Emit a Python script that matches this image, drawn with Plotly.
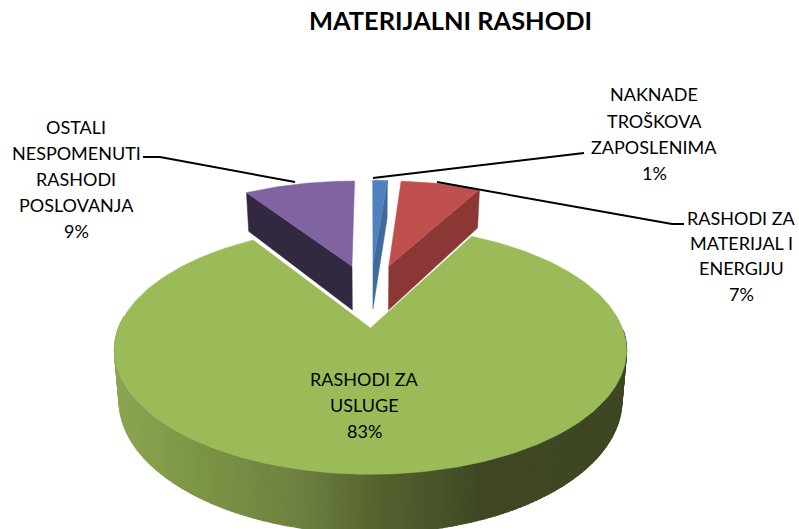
import math
import plotly.graph_objects as go

title = "MATERIJALNI RASHODI"
categories = ["NAKNADE TROŠKOVA ZAPOSLENIMA", "RASHODI ZA MATERIJAL I ENERGIJU",
              "RASHODI ZA USLUGE", "OSTALI NESPOMENUTI RASHODI POSLOVANJA"]
values = [1.2, 6.5, 83.3, 9]
top_colors = ["#4f81bd", "#c0504d", "#9bbb59", "#8064a2"]
wall_colors = ["#3f6a9c", "#8a3735", None, "#32283f"]

# pseudo-3D view parameters
W, H = 799, 529
CX, CY, AX, BY, K, EXPLODE, DEPTH, START, TAPER = 370.5, 295, 239.5, 108.5, 0.17, 0.29, 46, 0, 0.018

def project(x, y, z=0.0):
    s = 1 / (1 + K * y)
    return CX + AX * x * s * (1 - TAPER * z), CY - BY * y * s + DEPTH * z * s

total = sum(values)
angles = [START]
for v in values:
    angles.append(angles[-1] + 360 * v / total)

def rim(a0, a1, step=1.0):
    n = max(2, int(abs(a1 - a0) / step) + 1)
    return [a0 + (a1 - a0) * i / (n - 1) for i in range(n)]

def offset(i):
    m = math.radians((angles[i] + angles[i + 1]) / 2)
    if i == 2:  # the big slice is pulled straight towards the viewer
        return 0.0, -EXPLODE
    return EXPLODE * math.sin(m), EXPLODE * math.cos(m)

def pt(i, a, z=0.0, r=1.0):
    ox, oy = offset(i)
    t = math.radians(a)
    return project(ox + r * math.sin(t), oy + r * math.cos(t), z)

fig = go.Figure()

def poly(points, color, edge=0.5):
    xs = [p[0] for p in points] + [points[0][0]]
    ys = [p[1] for p in points] + [points[0][1]]
    fig.add_trace(go.Scatter(x=xs, y=ys, mode="lines", fill="toself", fillcolor=color,
                             line=dict(color=color, width=edge), hoverinfo="skip", showlegend=False))

# radial walls of the exploded slices: the edge facing the viewer
for i, edge in ((3, angles[3]), (1, angles[2]), (0, angles[1])):
    poly([pt(i, edge, 0, 0), pt(i, edge), pt(i, edge, 1), pt(i, edge, 1, 0)], wall_colors[i])

# tops of the small slices
for i in (3, 1, 0):
    poly([pt(i, 0, 0, 0)] + [pt(i, a) for a in rim(angles[i], angles[i + 1])], top_colors[i])

# outer wall of the big slice, graded from left to right
stops = [(114, (139, 166, 82)), (200, (124, 148, 70)), (300, (110, 128, 64)),
         (380, (84, 97, 46)), (440, (72, 84, 41)), (480, (63, 72, 35)), (630, (62, 71, 35))]

def grade(x):
    for (x0, c0), (x1, c1) in zip(stops, stops[1:]):
        if x <= x1:
            f = max(0, (x - x0) / (x1 - x0))
            return "rgb(%d,%d,%d)" % tuple(round(c0[j] + (c1[j] - c0[j]) * f) for j in range(3))
    return "rgb(%d,%d,%d)" % stops[-1][1]

green_rim = rim(angles[2], angles[3], 1.0)
for a0, a1 in zip(green_rim, green_rim[1:]):
    if 90 < a0 % 360 < 275:
        p0, p1 = pt(2, a0), pt(2, a1)
        poly([p0, p1, pt(2, a1, 1), pt(2, a0, 1)], grade((p0[0] + p1[0]) / 2), edge=1.2)

# top of the big slice
poly([pt(2, 0, 0, 0)] + [pt(2, a) for a in green_rim], top_colors[2])

# leader lines
leaders = [
    [(143, 157), (160, 157), (295, 182)],
    [(373, 178), (578, 153), (584, 153)],
    [(437, 182), (672, 224), (684, 224)],
]
for line in leaders:
    fig.add_trace(go.Scatter(x=[p[0] for p in line], y=[p[1] for p in line], mode="lines",
                             line=dict(color="#000000", width=2), hoverinfo="skip", showlegend=False))

# labels
label_font = dict(family="Lato", size=18, color="#000000")
labels = [
    (654, [94, 121, 147, 173], ["NAKNADE", "TROŠKOVA", "ZAPOSLENIMA", "1%"]),
    (741, [218, 243, 268, 294], ["RASHODI ZA", "MATERIJAL I", "ENERGIJU", "7%"]),
    (364, [379, 405, 431], ["RASHODI ZA", "USLUGE", "83%"]),
    (76, [127, 153, 179, 205, 231], ["OSTALI", "NESPOMENUTI", "RASHODI", "POSLOVANJA", "9%"]),
]
annotations = [dict(x=450, y=20, text="<b>%s</b>" % title, showarrow=False, xanchor="center", yanchor="middle",
                    font=dict(family="Lato", size=25.4, color="#000000"))]
for lx, ys, lines in labels:
    for ly, t in zip(ys, lines):
        annotations.append(dict(x=lx, y=ly, text=t, showarrow=False, xanchor="center", yanchor="middle",
                                font=label_font))

fig.update_layout(
    width=W, height=H, margin=dict(l=0, r=0, t=0, b=0), paper_bgcolor="#ffffff", plot_bgcolor="#ffffff",
    xaxis=dict(range=[0, W], visible=False, fixedrange=True),
    yaxis=dict(range=[H, 0], visible=False, fixedrange=True),
    showlegend=False, annotations=annotations,
)
fig.write_html("out.html", config=dict(displayModeBar=False),
               post_script="document.body.style.margin='0';document.body.style.overflow='hidden';")
